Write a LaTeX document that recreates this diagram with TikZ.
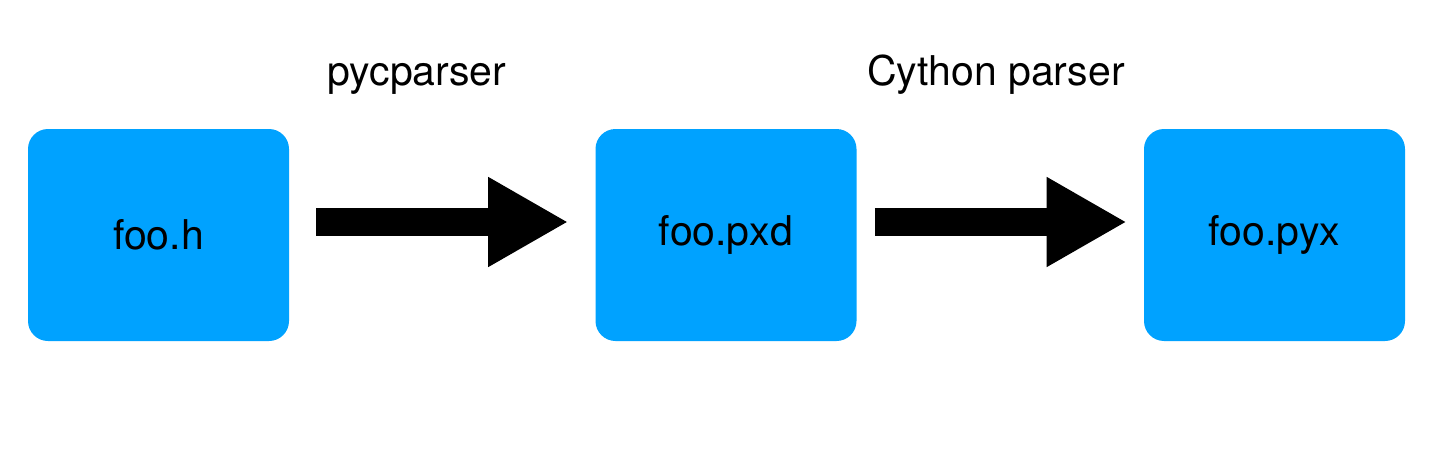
\documentclass[tikz,border=0pt]{standalone}
\usepackage{fontspec}
\setmainfont{TeX Gyre Heros}
\usetikzlibrary{arrows.meta}
\definecolor{boxblue}{RGB}{0,162,255}
\tikzset{
	filebox/.style={fill=boxblue,rounded corners=15pt,minimum width=195.75pt,minimum height=159pt,inner sep=0pt,font=\fontsize{30.75}{36}\selectfont},
	steplabel/.style={anchor=base,inner sep=0pt,font=\fontsize{30.75}{36}\selectfont},
	blockarrow/.style={line width=21pt,-{Triangle[length=60pt,width=63pt]}}
}
\begin{document}
\begin{tikzpicture}[x=0.75pt,y=-0.75pt]
		\useasboundingbox (0,0) rectangle (1434,460);
		\node[filebox] (h) at (158.5,235) {foo.h};
		\node[filebox] (pxd) at (726,235) {foo.pxd};
		\node[filebox] (pyx) at (1274.5,235) {foo.pyx};
		\node[steplabel] (pyc) at (417,85) {pycparser};
		\node[steplabel] (cyp) at (996,85) {Cython parser};
		\draw[blockarrow,shorten <=20.25pt,shorten >=20.25pt] ([yshift=9.75pt]h.east) -- ([yshift=9.75pt]pxd.west);
		\draw[blockarrow,shorten <=13.5pt,shorten >=12.75pt] ([yshift=9.75pt]pxd.east) -- ([yshift=9.75pt]pyx.west);
\end{tikzpicture}
\end{document}
